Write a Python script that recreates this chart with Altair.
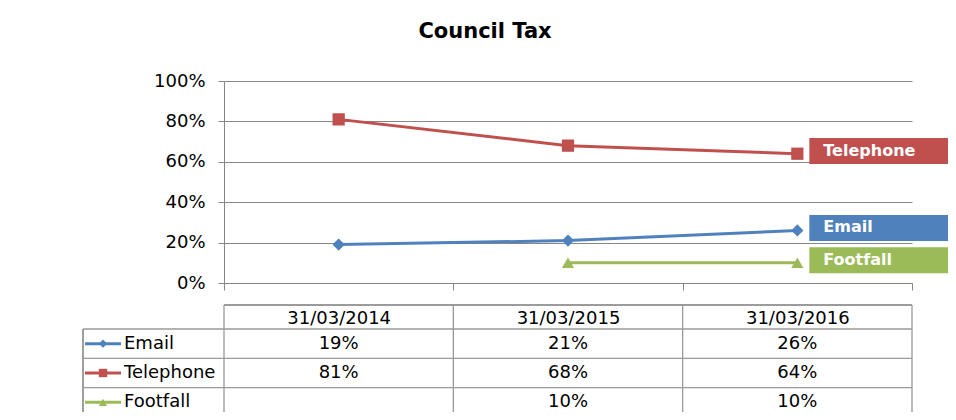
import altair as alt
import pandas as pd

# ---- data ----
dates = ["31/03/2014", "31/03/2015", "31/03/2016"]
series = ["Email", "Telephone", "Footfall"]
email = [0.19, 0.21, 0.26]
telephone = [0.81, 0.68, 0.64]
footfall = [None, 0.10, 0.10]
y_ticks = [0, 0.2, 0.4, 0.6, 0.8, 1.0]

colors = ["#4F81BD", "#C0504D", "#9BBB59"]
shapes = ["diamond", "square", "triangle-up"]

FONT = "DejaVu Sans"
GRID = "#868686"
TLINE = "#9a9a9a"

rows = []
for name, vals in zip(series, [email, telephone, footfall]):
    for d, v in zip(dates, vals):
        rows.append({"series": name, "date": d, "value": v})
df = pd.DataFrame(rows)
pts = df.dropna(subset=["value"]).copy()
pts["label"] = (pts["value"] * 100).round().astype(int).astype(str) + "%"
last = pts[pts["date"] == dates[-1]]
key_df = pd.DataFrame({"series": series})
bounds_df = pd.DataFrame({"date": dates})
end_df = pd.DataFrame({"date": [dates[-1]]})

x_axis = alt.Axis(title=None, orient="bottom", labelFont=FONT, labelFontSize=18,
                  labelColor="black", labelPadding=19, labelAngle=0,
                  tickBand="extent", tickSize=7, tickColor=GRID, domainColor=GRID,
                  grid=False)
x_scale = alt.Scale(type="band", domain=dates, paddingInner=0, paddingOuter=0)


def xe(band=0.5):
    return alt.X("date:N", sort=dates, scale=x_scale, axis=x_axis, bandPosition=band)


y_main = alt.Y("value:Q", scale=alt.Scale(domain=[0, 1]),
               axis=alt.Axis(title=None, values=y_ticks, format=".0%", labelFont=FONT,
                             labelFontSize=18, labelColor="black", labelPadding=13,
                             tickSize=6, tickColor=GRID, domainColor=GRID,
                             gridColor=GRID, grid=True))
color = alt.Color("series:N", scale=alt.Scale(domain=series, range=colors), legend=None)
shape = alt.Shape("series:N", scale=alt.Scale(domain=series, range=shapes), legend=None)

row_scale = alt.Scale(type="band", domain=series, range=[248, 336],
                      paddingInner=0, paddingOuter=0)


def yr(band=0.5):
    return alt.Y("series:N", sort=series, scale=row_scale, axis=None, bandPosition=band)


base = alt.Chart(pts)
lines = base.mark_line(strokeWidth=3).encode(x=xe(), y=y_main, color=color, detail="series:N")
points = base.mark_point(filled=True, opacity=1, size=150).encode(
    x=xe(), y=y_main, color=color, shape=shape)
boxes = alt.Chart(last).mark_point(
    shape="M0.923,-1.2H14V0.8H0.923Z", size=676, filled=True, opacity=1, strokeWidth=0
).encode(x=xe(), y=y_main, color=color)
box_text = alt.Chart(last).mark_text(
    align="left", baseline="middle", dx=26, dy=-3, font=FONT, fontSize=16,
    fontWeight="bold", color="white"
).encode(x=xe(), y=y_main, text="series:N")

main = alt.layer(lines, points, boxes, box_text)

row_lines = alt.Chart(key_df).mark_rule(color=TLINE, strokeWidth=1.3).encode(
    y=yr(0), x=alt.value(-141), x2=alt.value(688))
header_top = alt.Chart(key_df).mark_rule(color=TLINE, strokeWidth=1.3).encode(
    y=alt.value(224), x=alt.value(0), x2=alt.value(688))
col_lines = alt.Chart(bounds_df).mark_rule(color=TLINE, strokeWidth=1.3).encode(
    x=xe(0), y=alt.value(224), y2=alt.value(340))
col_end = alt.Chart(end_df).mark_rule(color=TLINE, strokeWidth=1.3).encode(
    x=xe(1), y=alt.value(224), y2=alt.value(340))
left_line = alt.Chart(key_df).mark_rule(color=TLINE, strokeWidth=1.3).encode(
    x=alt.value(-141), y=alt.value(248), y2=alt.value(340))
key_lines = alt.Chart(key_df).mark_rule(strokeWidth=3).encode(
    y=yr(), x=alt.value(-139), x2=alt.value(-103), color=color)
key_points = alt.Chart(key_df).mark_point(filled=True, opacity=1, size=70).encode(
    y=yr(), x=alt.value(-121), color=color, shape=shape)
key_text = alt.Chart(key_df).mark_text(
    align="left", baseline="middle", font=FONT, fontSize=18, color="black"
).encode(y=yr(), x=alt.value(-100), text="series:N")
cell_text = alt.Chart(pts).mark_text(
    align="center", baseline="middle", font=FONT, fontSize=18, color="black"
).encode(x=xe(), y=yr(), text="label:N")

table = alt.layer(row_lines, header_top, col_lines, col_end, left_line,
                  key_lines, key_points, key_text, cell_text)

chart = alt.layer(main, table).resolve_scale(y="independent").properties(
    width=688, height=202,
    padding={"left": 216, "top": 73, "right": 36, "bottom": 129},
    autosize=alt.AutoSizeParams(type="none"),
    title=alt.TitleParams("Council Tax", font=FONT, fontSize=21, fontWeight="bold",
                          color="black", anchor="middle", dx=-83, offset=13,
                          baseline="alphabetic"),
).configure_view(strokeWidth=0)

chart.save("out.html", embed_options={"renderer": "svg", "actions": False})
